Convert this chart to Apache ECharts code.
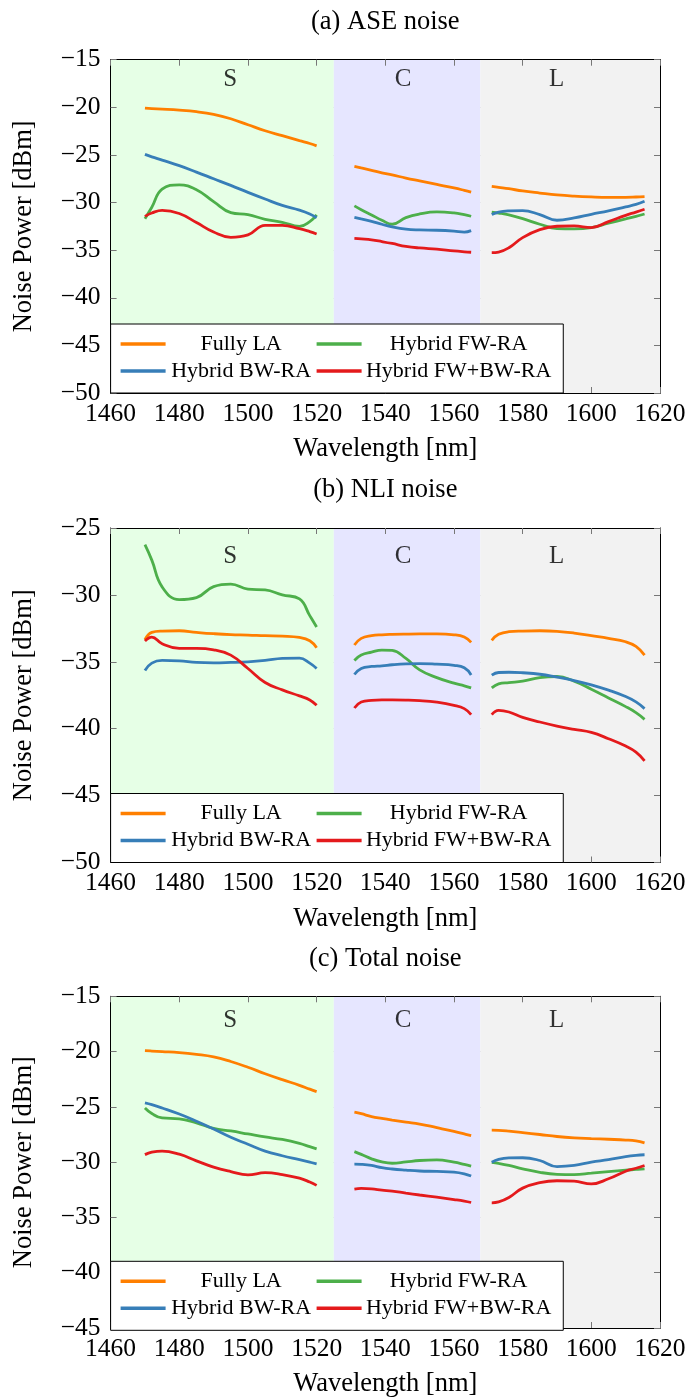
<!DOCTYPE html>
<html>
<head>
<meta charset="utf-8">
<script src="https://cdn.jsdelivr.net/npm/echarts@6/dist/echarts.min.js"></script>
<style>
html,body{margin:0;padding:0;background:#fff;}
#chart{width:691px;height:1399px;}
</style>
</head>
<body>
<div id="chart"></div>
<script>
// ---------- data ----------
const titles = ['(a) ASE noise', '(b) NLI noise', '(c) Total noise'];
const seriesNames = ['Fully LA', 'Hybrid FW-RA', 'Hybrid BW-RA', 'Hybrid FW+BW-RA'];
const seriesColors = ['#ff7f00', '#4daf4a', '#377eb8', '#e41a1c'];
const bandNames = ['S', 'C', 'L'];
const bandEdges = [1460, 1525, 1567.7, 1620];
const bandColors = ['#e6ffe6', '#e6e6ff', '#f2f2f2'];
const bandLabelX = [1494.8, 1545.2, 1589.9];
const bandLabelY = [-17.1, -27.15, -17.2];
const xTicks = [1460, 1480, 1500, 1520, 1540, 1560, 1580, 1600, 1620];
const yMin = [-50, -50, -45];
const yMax = [-15, -25, -15];

const xS = [1470, 1472, 1475, 1480, 1485, 1490, 1495, 1500, 1505, 1510, 1515, 1518, 1520];
const xC = [1531, 1533, 1536, 1539, 1542, 1546, 1550, 1555, 1560, 1563, 1565];
const xL = [1571, 1573, 1576, 1580, 1585, 1590, 1595, 1600, 1605, 1610, 1613, 1615.5];

// (a) ASE noise
const ase_LA_S = [-20.08, -20.13, -20.18, -20.29, -20.46, -20.74, -21.2, -21.83, -22.46, -22.98, -23.5, -23.8, -24.05];
const ase_LA_C = [-26.2, -26.37, -26.62, -26.88, -27.1, -27.43, -27.73, -28.1, -28.47, -28.72, -28.9];
const ase_LA_L = [-28.3, -28.4, -28.55, -28.78, -29.0, -29.2, -29.33, -29.41, -29.45, -29.45, -29.42, -29.38];
const ase_FW_S = [-31.7, -30.5, -28.6, -28.15, -28.65, -29.9, -31.05, -31.27, -31.76, -32.07, -32.5, -32.0, -31.3];
const ase_FW_C = [-30.35, -30.75, -31.3, -31.86, -32.28, -31.58, -31.2, -30.99, -31.09, -31.27, -31.44];
const ase_FW_L = [-31.0, -31.1, -31.3, -31.69, -32.28, -32.73, -32.77, -32.63, -32.17, -31.72, -31.45, -31.2];
const ase_BW_S = [-24.94, -25.2, -25.54, -26.13, -26.8, -27.5, -28.2, -28.93, -29.63, -30.3, -30.8, -31.2, -31.6];
const ase_BW_C = [-31.55, -31.72, -31.97, -32.28, -32.56, -32.8, -32.88, -32.91, -33.0, -33.1, -32.95];
const ase_BW_L = [-31.25, -31.0, -30.88, -30.85, -31.27, -31.86, -31.62, -31.23, -30.88, -30.46, -30.2, -29.87];
const ase_FWBW_S = [-31.45, -31.1, -30.82, -31.15, -32.1, -33.1, -33.65, -33.4, -32.4, -32.4, -32.75, -33.05, -33.3];
const ase_FWBW_C = [-33.77, -33.82, -33.92, -34.1, -34.3, -34.6, -34.77, -34.9, -35.08, -35.17, -35.22];
const ase_FWBW_L = [-35.26, -35.2, -34.75, -33.68, -32.84, -32.49, -32.46, -32.63, -32.0, -31.34, -31.0, -30.7];

// (b) NLI noise
const nli_LA_S = [-33.35, -32.8, -32.7, -32.68, -32.8, -32.9, -32.97, -33.0, -33.05, -33.08, -33.18, -33.43, -33.95];
const nli_LA_C = [-33.75, -33.25, -33.05, -32.98, -32.95, -32.93, -32.92, -32.92, -32.98, -33.15, -33.55];
const nli_LA_L = [-33.4, -32.95, -32.75, -32.7, -32.68, -32.72, -32.85, -33.05, -33.25, -33.5, -33.85, -34.5];
const nli_FW_S = [-26.25, -27.4, -29.4, -30.35, -30.2, -29.38, -29.2, -29.57, -29.63, -30.0, -30.3, -31.55, -32.4];
const nli_FW_C = [-34.9, -34.5, -34.28, -34.12, -34.15, -34.75, -35.6, -36.18, -36.6, -36.8, -36.95];
const nli_FW_L = [-36.95, -36.65, -36.55, -36.45, -36.18, -36.1, -36.45, -37.05, -37.7, -38.35, -38.8, -39.3];
const nli_BW_S = [-35.65, -35.1, -34.9, -34.93, -35.05, -35.08, -35.05, -35.0, -34.9, -34.75, -34.72, -35.1, -35.5];
const nli_BW_C = [-35.95, -35.5, -35.35, -35.3, -35.22, -35.15, -35.13, -35.18, -35.27, -35.45, -35.98];
const nli_BW_L = [-36.0, -35.8, -35.78, -35.82, -35.93, -36.15, -36.4, -36.72, -37.12, -37.6, -38.0, -38.5];
const nli_FWBW_S = [-33.45, -33.15, -33.65, -34.0, -34.0, -34.1, -34.5, -35.5, -36.55, -37.1, -37.55, -37.85, -38.25];
const nli_FWBW_C = [-38.45, -38.0, -37.88, -37.85, -37.85, -37.86, -37.9, -38.02, -38.25, -38.5, -38.95];
const nli_FWBW_L = [-38.95, -38.63, -38.75, -39.15, -39.5, -39.8, -40.05, -40.28, -40.75, -41.3, -41.75, -42.4];

// (c) Total noise
const tot_LA_S = [-19.92, -19.95, -20.0, -20.09, -20.25, -20.48, -20.9, -21.42, -22.0, -22.54, -23.05, -23.4, -23.62];
const tot_LA_C = [-25.48, -25.62, -25.88, -26.05, -26.2, -26.38, -26.55, -26.88, -27.22, -27.45, -27.6];
const tot_LA_L = [-27.1, -27.12, -27.2, -27.33, -27.5, -27.68, -27.8, -27.87, -27.93, -28.0, -28.08, -28.25];
const tot_FW_S = [-25.1, -25.6, -26.0, -26.08, -26.45, -26.95, -27.18, -27.45, -27.72, -27.95, -28.3, -28.6, -28.8];
const tot_FW_C = [-29.05, -29.3, -29.7, -29.98, -30.1, -29.98, -29.85, -29.8, -30.0, -30.2, -30.35];
const tot_FW_L = [-30.03, -30.12, -30.3, -30.6, -30.92, -31.1, -31.13, -31.0, -30.85, -30.72, -30.66, -30.6];
const tot_BW_S = [-24.64, -24.8, -25.1, -25.65, -26.3, -27.0, -27.75, -28.38, -29.0, -29.42, -29.78, -30.0, -30.15];
const tot_BW_C = [-30.18, -30.2, -30.3, -30.5, -30.62, -30.72, -30.8, -30.84, -30.9, -31.05, -31.25];
const tot_BW_L = [-30.0, -29.75, -29.62, -29.6, -29.85, -30.4, -30.3, -30.0, -29.78, -29.5, -29.38, -29.33];
const tot_FWBW_S = [-29.32, -29.1, -29.0, -29.28, -29.88, -30.45, -30.85, -31.15, -30.95, -31.12, -31.45, -31.8, -32.1];
const tot_FWBW_C = [-32.43, -32.38, -32.42, -32.53, -32.62, -32.8, -32.97, -33.17, -33.38, -33.52, -33.65];
const tot_FWBW_L = [-33.68, -33.6, -33.2, -32.35, -31.85, -31.68, -31.72, -31.97, -31.5, -30.82, -30.55, -30.3];

// chart -> series (order of seriesNames) -> [S, C, L]
const allData = [
  [[ase_LA_S, ase_LA_C, ase_LA_L], [ase_FW_S, ase_FW_C, ase_FW_L], [ase_BW_S, ase_BW_C, ase_BW_L], [ase_FWBW_S, ase_FWBW_C, ase_FWBW_L]],
  [[nli_LA_S, nli_LA_C, nli_LA_L], [nli_FW_S, nli_FW_C, nli_FW_L], [nli_BW_S, nli_BW_C, nli_BW_L], [nli_FWBW_S, nli_FWBW_C, nli_FWBW_L]],
  [[tot_LA_S, tot_LA_C, tot_LA_L], [tot_FW_S, tot_FW_C, tot_FW_L], [tot_BW_S, tot_BW_C, tot_BW_L], [tot_FWBW_S, tot_FWBW_C, tot_FWBW_L]]
];
const bandX = [xS, xC, xL];

// ---------- layout ----------
const FONT = 'Liberation Serif, Times New Roman, serif';
const FS_TICK = 25.5;
const FS_NAME = 26.5;
const FS_LEG = 22;
const gridTop = [59.7, 528, 996.3];
const gridHeight = [333.3, 334.5, 334];
const gridLeft = 110.6;
const gridWidth = 549.4;
const legendH = 69;

const grids = [], xAxes = [], yAxes = [], series = [], legends = [];
const tickStyle = { show: true, inside: true, length: 6, lineStyle: { color: '#777', width: 1 } };
const splitStyle = { show: true, lineStyle: { color: '#c8c8c8', width: 1 } };
const frameLine = { show: true, onZero: false, lineStyle: { color: '#000', width: 1 } };
const minus = v => String(v).replace('-', '\u2212');

for (let k = 0; k < 3; k++) {
  grids.push({ left: gridLeft, top: gridTop[k], width: gridWidth, height: gridHeight[k], containLabel: false });
  xAxes.push({
    type: 'value', gridIndex: k, position: 'bottom', min: xTicks[0], max: xTicks[xTicks.length - 1], interval: 20, z: 1,
    axisLine: frameLine, axisTick: tickStyle, splitLine: splitStyle,
    axisLabel: { color: '#000', fontFamily: FONT, fontSize: FS_TICK, margin: 8, hideOverlap: false, formatter: v => String(v) },
    name: 'Wavelength [nm]', nameLocation: 'middle', nameGap: 43,
    nameTextStyle: { color: '#000', fontFamily: FONT, fontSize: FS_NAME }
  });
  xAxes.push({
    type: 'value', gridIndex: k, position: 'top', min: xTicks[0], max: xTicks[xTicks.length - 1], interval: 20, z: 1,
    axisLine: frameLine, axisTick: tickStyle, splitLine: { show: false }, axisLabel: { show: false },
    name: titles[k], nameLocation: 'middle', nameGap: 24,
    nameTextStyle: { color: '#000', fontFamily: FONT, fontSize: FS_NAME }
  });
  yAxes.push({
    type: 'value', gridIndex: k, position: 'left', min: yMin[k], max: yMax[k], interval: 5, z: 1,
    axisLine: frameLine, axisTick: tickStyle, splitLine: splitStyle,
    axisLabel: { color: '#000', fontFamily: FONT, fontSize: FS_TICK, margin: 10, formatter: minus },
    name: 'Noise Power [dBm]', nameLocation: 'middle', nameGap: 73,
    nameTextStyle: { color: '#000', fontFamily: FONT, fontSize: FS_NAME }
  });
  yAxes.push({
    type: 'value', gridIndex: k, position: 'right', min: yMin[k], max: yMax[k], interval: 5, z: 1,
    axisLine: frameLine, axisTick: tickStyle, splitLine: { show: false }, axisLabel: { show: false }
  });

  // band backgrounds
  series.push({
    type: 'line', xAxisIndex: 2 * k, yAxisIndex: 2 * k, data: [], z: 0, silent: true,
    markArea: {
      silent: true,
      data: bandNames.map((b, i) => [
        { xAxis: bandEdges[i], itemStyle: { color: bandColors[i] } },
        { xAxis: bandEdges[i + 1] }
      ])
    }
  });
  // band labels
  series.push({
    type: 'scatter', xAxisIndex: 2 * k, yAxisIndex: 2 * k, symbolSize: 1, z: 2, silent: true,
    itemStyle: { color: 'rgba(0,0,0,0)' },
    data: bandNames.map((b, i) => ({ name: b, value: [bandLabelX[i], bandLabelY[k]] })),
    label: { show: true, position: 'inside', formatter: '{b}', color: '#000', fontFamily: FONT, fontSize: 25 }
  });
  // data lines
  seriesNames.forEach((nm, s) => {
    for (let b = 0; b < 3; b++) {
      series.push({
        type: 'line', name: nm, xAxisIndex: 2 * k, yAxisIndex: 2 * k, z: 3,
        smooth: 0.45, showSymbol: false, symbol: 'none',
        lineStyle: { color: seriesColors[s], width: 2.8 },
        itemStyle: { color: seriesColors[s] },
        data: bandX[b].map((x, i) => [x, allData[k][s][b][i]])
      });
    }
  });
  legends.push({
    data: seriesNames, left: gridLeft, top: gridTop[k] + gridHeight[k] - legendH,
    width: 460, orient: 'horizontal', itemGap: 5, itemWidth: 45, itemHeight: 3.5, icon: 'rect',
    padding: [9, 12, 11, 10], backgroundColor: '#fff', borderColor: '#000', borderWidth: 1, borderRadius: 0,
    selectedMode: false,
    formatter: n => (n === 'Fully LA' || n === 'Hybrid BW-RA') ? '{a|' + n + '}' : '{b|' + n + '}',
    textStyle: {
      color: '#000', fontFamily: FONT, fontSize: FS_LEG,
      rich: {
        a: { width: 141, align: 'center', lineHeight: 25, fontFamily: FONT, fontSize: FS_LEG, color: '#000' },
        b: { width: 184, align: 'center', lineHeight: 25, fontFamily: FONT, fontSize: FS_LEG, color: '#000' }
      }
    }
  });
}

const chart = echarts.init(document.getElementById('chart'), null, { renderer: 'canvas' });
chart.setOption({
  animation: false,
  backgroundColor: '#fff',
  grid: grids,
  xAxis: xAxes,
  yAxis: yAxes,
  legend: legends,
  series: series
});
</script>
</body>
</html>
